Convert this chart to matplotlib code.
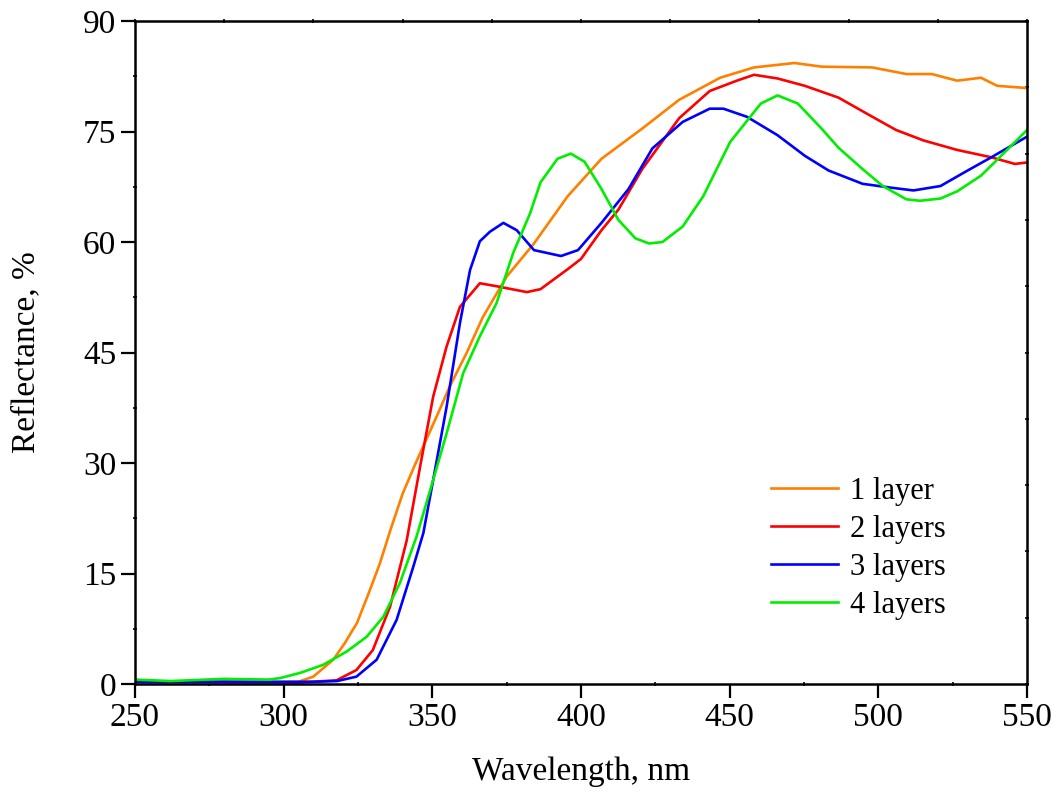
import matplotlib
matplotlib.use('Agg')
from matplotlib import pyplot as plt
from matplotlib.ticker import MultipleLocator

# 1 layer
wl1 = [250, 270, 290, 305, 310, 316.7, 320.5, 324.7, 328.5, 332.4, 336, 340, 344,
       348, 352, 356, 361.5, 367, 375, 384.2, 395.5, 406.9, 420.6, 433, 446.8, 458.2,
       471.8, 481, 498, 509.4, 518, 526.5, 534.5, 540, 550]
r1 = [0.2, 0.2, 0.2, 0.3, 1.0, 3.3, 5.5, 8.3, 12.2, 16.4, 21.0, 25.8, 29.6,
      33.2, 36.8, 40.5, 44.9, 49.8, 55.3, 59.8, 66.2, 71.3, 75.4, 79.3, 82.3, 83.7,
      84.3, 83.8, 83.7, 82.8, 82.8, 81.9, 82.3, 81.2, 80.9]

# 2 layers
wl2 = [250, 280, 305, 317.8, 324.5, 330, 335.8, 341.4, 345.9, 350.3, 354.8, 359.3, 366,
       371.6, 381.8, 386.4, 395.5, 400, 406.9, 412.6, 420.6, 433, 443.3, 452.4, 458.2,
       466.1, 475.3, 486.6, 498, 506, 515.1, 526.5, 538, 545.9, 550]
r2 = [0.3, 0.3, 0.2, 0.5, 1.9, 4.6, 10.5, 19.5, 29.5, 39.0, 45.8, 51.2, 54.4,
      54.0, 53.2, 53.6, 56.3, 57.7, 61.6, 64.4, 69.9, 76.8, 80.5, 81.9, 82.7,
      82.2, 81.2, 79.6, 77.0, 75.2, 73.8, 72.5, 71.5, 70.6, 70.8]

# 3 layers
wl3 = [250, 280, 310, 318, 324.5, 331.3, 338, 343.6, 347, 350.3, 354.8, 359.3, 362.7,
       366, 369.4, 373.9, 378.4, 384.2, 393.3, 399, 406.9, 416, 424, 434.2, 443.3,
       447.9, 455.8, 466.1, 475.3, 483.3, 494.7, 503.8, 511.8, 520.9, 530, 538, 550]
r3 = [0.3, 0.3, 0.3, 0.4, 1.0, 3.3, 8.7, 15.9, 20.5, 27.7, 37.6, 49.0, 56.2,
      60.1, 61.4, 62.6, 61.6, 58.9, 58.1, 58.9, 62.6, 67.2, 72.7, 76.3, 78.1,
      78.1, 77.0, 74.5, 71.7, 69.7, 67.9, 67.4, 67.0, 67.6, 69.7, 71.5, 74.3]

# 4 layers
wl4 = [250, 262, 280, 295, 298.8, 305.5, 313.3, 321.2, 327.9, 333.5, 339.1, 344.7,
       350.3, 354.8, 360.4, 366, 371.6, 377.2, 382.9, 386.4, 392.1, 396.6, 401.2,
       406.9, 412.6, 418.3, 422.9, 427.4, 434.2, 441.1, 450.2, 460.5, 466.1, 472.9,
       480.9, 486.6, 494.7, 501.5, 509.4, 514, 520.9, 526.6, 534.5, 541.3, 550]
r4 = [0.6, 0.4, 0.7, 0.6, 0.8, 1.5, 2.6, 4.4, 6.4, 9.1, 13.7, 20.0,
      27.7, 34.0, 42.2, 47.2, 51.7, 58.5, 63.9, 68.1, 71.3, 72.0, 70.9,
      67.2, 63.0, 60.5, 59.8, 60.0, 62.1, 66.2, 73.6, 78.8, 79.9, 78.8,
      75.4, 72.8, 69.9, 67.6, 65.8, 65.6, 65.9, 66.9, 69.0, 71.7, 75.2]

plt.rcParams['font.family'] = ['Liberation Serif', 'DejaVu Serif']

fig = plt.figure(figsize=(10.54, 7.96), dpi=100)
ax = fig.add_axes([0.128, 0.1407, 0.8464, 0.8329])

lw = 1.9
ax.plot(wl1, r1, color='#ff8000', lw=lw, label='1 layer')
ax.plot(wl2, r2, color='#ff0000', lw=lw, label='2 layers')
ax.plot(wl3, r3, color='#0000ff', lw=lw, label='3 layers')
ax.plot(wl4, r4, color='#00ee00', lw=lw, label='4 layers')

ax.set_xlim(250, 550)
ax.set_ylim(0, 90)
ax.xaxis.set_major_locator(MultipleLocator(50))
ax.xaxis.set_minor_locator(MultipleLocator(25))
ax.yaxis.set_major_locator(MultipleLocator(15))
ax.yaxis.set_minor_locator(MultipleLocator(7.5))
ax.tick_params(which='major', direction='out', length=10, width=1.6, labelsize=24,
               top=False, right=False)
ax.tick_params(which='minor', direction='inout', length=3, width=1.2,
               top=False, right=False)
for s in ax.spines.values():
    s.set_linewidth(1.8)

# small marks on top and right edges
top = ax.secondary_xaxis('top')
top.set_xticks([250 + 30 * i for i in range(11)])
top.tick_params(direction='inout', length=2.5, width=1.2, labeltop=False)
top.spines['top'].set_visible(False)
right = ax.secondary_yaxis('right')
right.set_yticks([9 * i for i in range(11)])
right.tick_params(direction='inout', length=2.5, width=1.2, labelright=False)
right.spines['right'].set_visible(False)

ax.set_xlabel('Wavelength, nm', fontsize=24, labelpad=17)
ax.set_ylabel('Reflectance, %', fontsize=24, labelpad=30)

ax.legend(loc='lower right', bbox_to_anchor=(0.94, 0.055), frameon=False, fontsize=22,
          handlelength=2.2, handletextpad=0.4, labelspacing=0.3)

fig.savefig('out.png', dpi=100)
